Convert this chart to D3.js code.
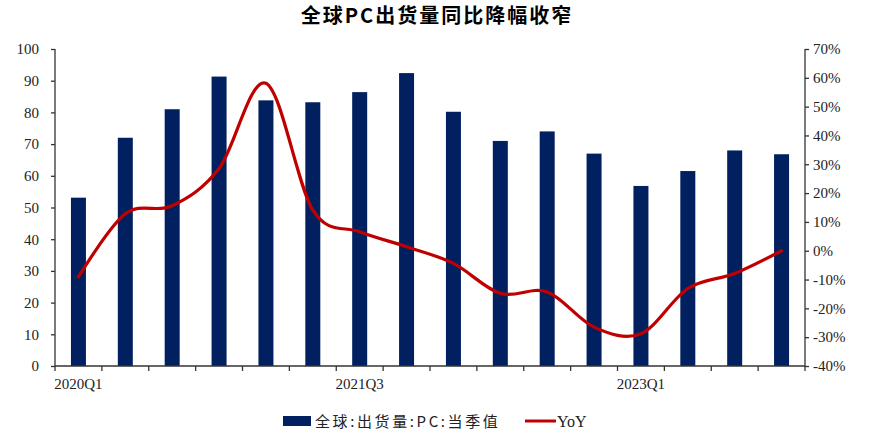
<!DOCTYPE html>
<html><head><meta charset="utf-8">
<script src="https://cdn.jsdelivr.net/npm/d3@7"></script>
<style>
body{margin:0;background:#fff;}
svg{display:block;}
</style></head>
<body>
<svg id="c" width="873" height="435"></svg>
<script>
const categories = ["2020Q1","2020Q2","2020Q3","2020Q4","2021Q1","2021Q2","2021Q3","2021Q4","2022Q1","2022Q2","2022Q3","2022Q4","2023Q1","2023Q2","2023Q3","2023Q4"];
const shipments = [53.1, 72.0, 81.0, 91.3, 83.8, 83.2, 86.4, 92.4, 80.2, 71.0, 74.0, 67.0, 56.8, 61.5, 68.0, 66.8];
const yoy = [-9.1, 12.8, 15.6, 28.5, 58.1, 14.1, 6.6, 1.4, -4.4, -14.8, -14.3, -26.5, -28.8, -13.1, -7.9, 0.0];
const leftTicks = [0,10,20,30,40,50,60,70,80,90,100];
const rightTicks = [-40,-30,-20,-10,0,10,20,30,40,50,60,70];
const xLabels = ["2020Q1","2021Q3","2023Q1"];
const title = "全球PC出货量同比降幅收窄";
const legendBar = "全球:出货量:PC:当季值";
const legendLine = "YoY";

const svg = d3.select("#c");
const m = {l:55, r:805, t:49, b:366};
const serif = "'Liberation Serif','Times New Roman',serif";
const cjk = "'Noto Sans CJK SC','Noto Sans',sans-serif";

const xb = d3.scaleBand().domain(categories).range([m.l, m.r]);
const yL = d3.scaleLinear().domain([0,100]).range([m.b, m.t]);
const yR = d3.scaleLinear().domain([-40,70]).range([m.b, m.t]);

svg.append("text").attr("x", 437).attr("y", 23).attr("text-anchor","middle")
  .attr("font-family", cjk).attr("font-weight","bold").attr("font-size", 20).attr("letter-spacing",2)
  .attr("fill","#000").text(title);

// bars
svg.append("g").selectAll("rect").data(shipments).join("rect")
  .attr("x",(d,i)=>xb(categories[i]) + xb.bandwidth()/2 - 7.5)
  .attr("width",15)
  .attr("y",d=>yL(d)).attr("height",d=>yL(0)-yL(d))
  .attr("fill","#002060");

// line
const line = d3.line().x((d,i)=>xb(categories[i])+xb.bandwidth()/2).y(d=>yR(d)).curve(d3.curveCardinal.tension(0));
svg.append("path").datum(yoy).attr("d",line).attr("fill","none").attr("stroke","#C00000").attr("stroke-width",3.2).attr("stroke-linecap","round");

// left axis
const gl = svg.append("g").attr("transform",`translate(${m.l},0)`)
  .call(d3.axisLeft(yL).tickValues(leftTicks).tickSize(4).tickPadding(12).tickFormat(d3.format("d")));
// right axis
const gr = svg.append("g").attr("transform",`translate(${m.r},0)`)
  .call(d3.axisRight(yR).tickValues(rightTicks).tickSize(4).tickPadding(4).tickFormat(d=>d+"%"));
[gl,gr].forEach(g=>{
  g.select(".domain").attr("stroke","#333").attr("stroke-width",1.3).attr("d",`M0,${m.t}V${m.b}`);
  g.selectAll(".tick line").attr("stroke","#333").attr("stroke-width",1.3);
  g.selectAll("text").attr("font-family",serif).attr("font-size",15).attr("fill","#222");
});
// x axis
const gx = svg.append("g").attr("transform",`translate(0,${m.b})`);
gx.append("line").attr("x1",m.l).attr("x2",m.r).attr("stroke","#333").attr("stroke-width",1.3);
const bounds = categories.map(c=>xb(c)).concat([m.r]);
gx.selectAll("line.t").data(bounds).join("line").attr("class","t")
  .attr("x1",d=>d).attr("x2",d=>d).attr("y1",0).attr("y2",5).attr("stroke","#333").attr("stroke-width",1.3);
gx.selectAll("text").data(xLabels).join("text")
  .attr("x",d=>xb(d)+xb.bandwidth()/2).attr("y",23).attr("text-anchor","middle")
  .attr("font-family",serif).attr("font-size",15).attr("fill","#222").text(d=>d);

// legend
const lg = svg.append("g");
lg.append("rect").attr("x",283).attr("y",416).attr("width",28).attr("height",10).attr("fill","#002060");
lg.append("text").attr("x",315).attr("y",427).attr("font-family",cjk).attr("font-size",15).attr("letter-spacing",2.6)
  .attr("fill","#222").text(legendBar);
lg.append("line").attr("x1",525).attr("x2",556).attr("y1",421).attr("y2",421).attr("stroke","#C00000").attr("stroke-width",3);
lg.append("text").attr("x",557).attr("y",427).attr("font-family",serif).attr("font-size",16).attr("fill","#222").text(legendLine);
</script>
</body></html>
